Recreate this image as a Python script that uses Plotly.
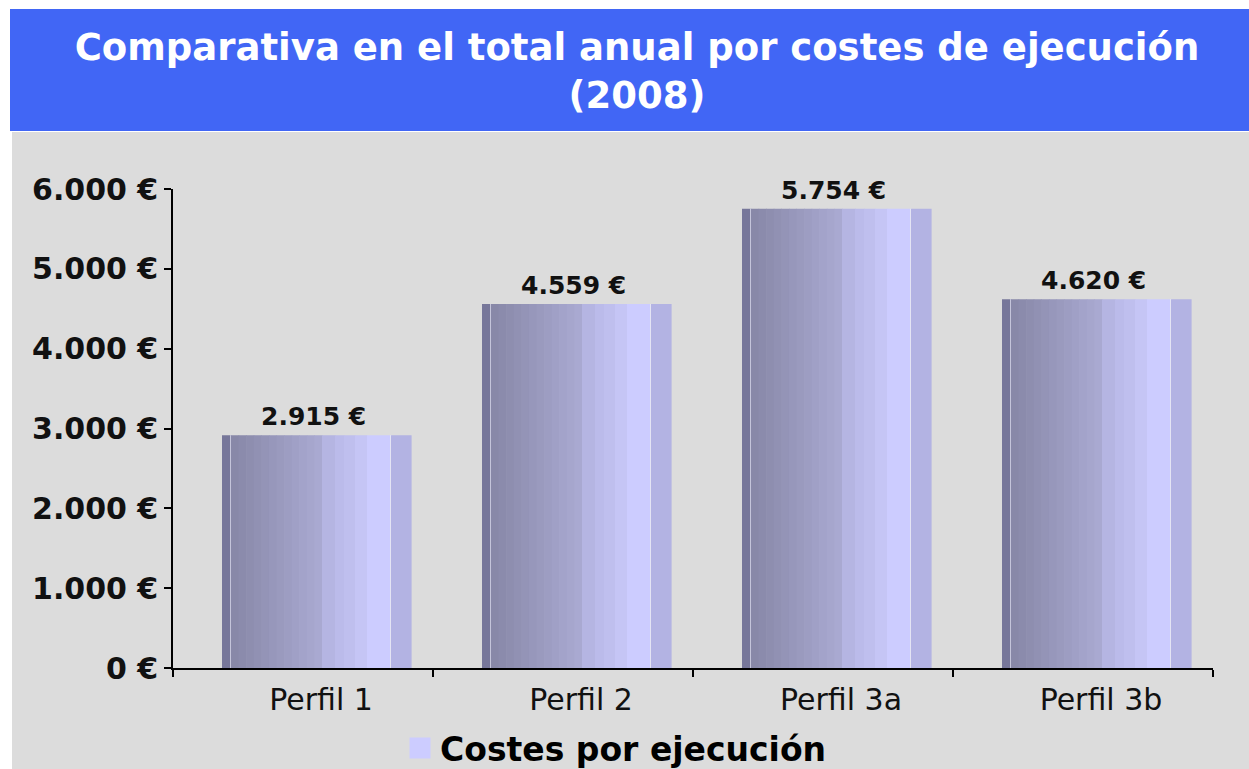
import plotly.graph_objects as go

# ---------------- data ----------------
categories = ["Perfil 1", "Perfil 2", "Perfil 3a", "Perfil 3b"]
costes = [2915, 4559, 5754, 4620]
value_labels = ["2.915 €", "4.559 €", "5.754 €", "4.620 €"]
y_tickvals = [0, 1000, 2000, 3000, 4000, 5000, 6000]
y_ticktext = ["0 €", "1.000 €", "2.000 €", "3.000 €", "4.000 €", "5.000 €", "6.000 €"]
series_name = "Costes por ejecución"
title_text = "Comparativa en el total anual por costes de ejecución<br>(2008)"

# ---------------- style ----------------
FONT = "DejaVu Sans"
W, H = 1249, 769
ML, MR, MT, MB = 173, 36, 189, 101
CAT_PX = 260.0
BAR_LEFT_PX = -81.0  # bar left edge relative to category centre


def hex2rgb(h):
    h = h.lstrip("#")
    return tuple(int(h[i:i + 2], 16) for i in (0, 2, 4))


def lerp(c1, c2, t):
    a, b = hex2rgb(c1), hex2rgb(c2)
    return "rgb(%d,%d,%d)" % tuple(round(a[i] + (b[i] - a[i]) * t) for i in range(3))


# cylinder shading profile across the bar (pixels from bar left edge)
stripes = [(0, 8, "#77779a"), (8, 9, "#c4c4da")]
n = 12
for i in range(n):
    x0 = 9 + (100 - 9) * i / n
    x1 = 9 + (100 - 9) * (i + 1) / n
    stripes.append((x0, x1, lerp("#8686a6", "#ababd3", (i + 0.5) / n)))
stripes += [
    (100, 113, "#b5b5e2"),
    (113, 122, "#bbbbea"),
    (122, 133, "#bfbfee"),
    (133, 145, "#c5c5f5"),
    (145, 168, "#ccccff"),
    (168, 169, "#e4e4f4"),
    (169, 189, "#b3b3e3"),
]

fig = go.Figure()
for x0, x1, col in stripes:
    fig.add_trace(go.Bar(
        x=categories, y=costes,
        offset=(BAR_LEFT_PX + x0) / CAT_PX,
        width=(x1 - x0 + 0.6) / CAT_PX,
        marker=dict(color=col, line=dict(width=0)),
        showlegend=False, hoverinfo="skip",
    ))

# legend entry
fig.add_trace(go.Scatter(
    x=[categories[0]], y=[None], mode="markers", name=series_name,
    marker=dict(symbol="square", size=16, color="#ccccff",
                line=dict(color="#ccccff", width=5)),
))

for cat, val, lab in zip(categories, costes, value_labels):
    fig.add_annotation(x=cat, y=val, text=lab, showarrow=False,
                       yanchor="bottom", yshift=2, xshift=10,
                       font=dict(family=FONT, size=25, color="#111111", weight="bold"))


def px_x(p):
    return (p - ML) / (W - ML - MR)


def px_y(p):
    return (H - MB - p) / (H - MT - MB)


# background panels
fig.add_shape(type="rect", xref="paper", yref="paper",
              x0=px_x(12), x1=px_x(1260), y0=px_y(132), y1=px_y(780),
              fillcolor="#dcdcdc", line=dict(width=0), layer="below")
fig.add_shape(type="rect", xref="paper", yref="paper",
              x0=px_x(10), x1=px_x(1260), y0=px_y(9), y1=px_y(131),
              fillcolor="#4166f5", line=dict(width=0), layer="below")

fig.update_layout(
    width=W, height=H,
    margin=dict(l=ML, r=MR, t=MT, b=MB, autoexpand=False),
    paper_bgcolor="white", plot_bgcolor="rgba(0,0,0,0)",
    barmode="overlay",
    title=dict(text=title_text, xref="container", yref="container",
               x=0.51, xanchor="center", y=1 - 60 / H, yanchor="middle",
               font=dict(family=FONT, size=37, color="white", weight="bold")),
    showlegend=True,
    legend=dict(orientation="h", x=px_x(400), xanchor="left",
                y=px_y(748), yanchor="middle", bgcolor="rgba(0,0,0,0)",
                font=dict(family=FONT, size=33, color="black", weight="bold"),
                itemsizing="trace"),
    xaxis=dict(type="category", range=[-0.5, 3.5], showgrid=False,
               showline=True, linecolor="black", linewidth=2,
               ticks="outside", tickson="boundaries", ticklen=7,
               tickcolor="black", tickwidth=1.5, ticklabelshift=18,
               ticklabelstandoff=4,
               tickfont=dict(family=FONT, size=30, color="#111111")),
    yaxis=dict(range=[0, 6000], tickvals=y_tickvals, ticktext=y_ticktext,
               showgrid=False, zeroline=False, showline=True,
               linecolor="black", linewidth=1.5, ticks="outside",
               ticklen=7, tickcolor="black", tickwidth=1.5,
               tickfont=dict(family=FONT, size=30, color="#111111", weight="bold")),
)

fig.write_html("out.html", config={"displayModeBar": False},
               post_script="document.body.style.margin='0';document.body.style.overflow='hidden';")
